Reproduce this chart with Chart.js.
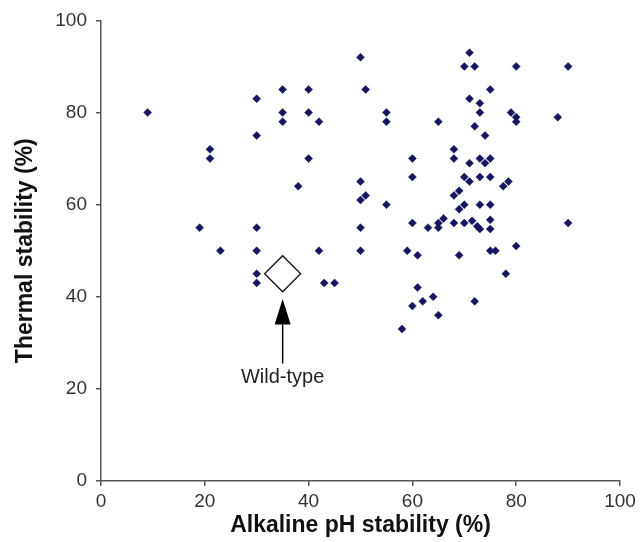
<!DOCTYPE html>
<html>
<head>
<meta charset="utf-8">
<script src="https://cdn.jsdelivr.net/npm/chart.js@4.4.1/dist/chart.umd.min.js"></script>
<style>
  html, body { margin: 0; padding: 0; background: #fff; }
  #wrap { width: 644px; height: 542px; }
</style>
</head>
<body>
<div id="wrap"><canvas id="graf"></canvas></div>
<script>
// Alkalická stabilita pH (%) a tepelná stabilita (%) mutantů
const phStabilita = [
  9, 19, 21, 21, 23, 30, 30, 30, 30, 30, 30, 35, 35, 35, 38, 40, 40, 40, 42, 42,
  43, 45, 50, 50, 50, 51, 50, 50, 51, 55, 55, 55, 58, 59, 60, 60, 60, 60, 61, 61,
  62, 63, 64, 65, 65, 65, 65, 66, 68, 68, 68, 68, 69, 69, 69, 70, 70, 70, 70, 71,
  71, 71, 71, 71.5, 72, 72, 72.5, 72, 73, 73, 73, 73, 73, 73, 74, 74, 75, 75, 75,
  75, 75, 75, 75, 76, 78.5, 77.5, 78, 79, 80, 80, 80, 80, 88, 90, 90
];
const tepelnaStabilita = [
  80, 55, 72, 70, 50, 83, 75, 55, 50, 45, 43, 85, 80, 78, 64, 85, 80, 70, 78, 50,
  43, 43, 92, 65, 61, 62, 55, 50, 85, 80, 78, 60, 33, 50, 70, 66, 56, 38, 49, 42,
  39, 55, 40, 78, 56, 55, 36, 57, 72, 70, 62, 56, 63, 59, 49, 90, 66, 60, 56, 93,
  83, 69, 65, 56.5, 90, 77, 55.3, 39, 82, 80, 70, 66, 60, 54.7, 75, 69, 85, 70, 66,
  60, 56.7, 54.7, 50, 50, 65, 64, 45, 80, 90, 79, 78, 51, 79, 90, 56
];
// Divoký typ
const divokyTyp = [{ x: 35, y: 45 }];
const popisek = 'Wild-type';
const sipka = { x: 35, spicka: 39.5, hlava: 34, konec: 25.5, text: 22.4 };

const osaX = [0, 20, 40, 60, 80, 100];
const osaY = [0, 20, 40, 60, 80, 100];

const body = phStabilita.map((v, i) => ({ x: v, y: tepelnaStabilita[i] }));

// šipka s popiskem u divokého typu
const sipkaPlugin = {
  id: 'sipka',
  afterDatasetsDraw(chart) {
    const ctx = chart.ctx;
    const sx = chart.scales.x, sy = chart.scales.y;
    const x = sx.getPixelForValue(sipka.x);
    const yTip = sy.getPixelForValue(sipka.spicka);
    const yHead = sy.getPixelForValue(sipka.hlava);
    const yEnd = sy.getPixelForValue(sipka.konec);
    ctx.save();
    ctx.strokeStyle = '#000';
    ctx.fillStyle = '#000';
    ctx.lineWidth = 1.5;
    ctx.beginPath();
    ctx.moveTo(x, yHead);
    ctx.lineTo(x, yEnd);
    ctx.stroke();
    ctx.beginPath();
    ctx.moveTo(x, yTip);
    ctx.lineTo(x - 8, yHead);
    ctx.lineTo(x + 8, yHead);
    ctx.closePath();
    ctx.fill();
    ctx.font = '20px "Liberation Sans", Arial, sans-serif';
    ctx.fillStyle = '#222';
    ctx.textAlign = 'center';
    ctx.textBaseline = 'middle';
    ctx.fillText(popisek, x, sy.getPixelForValue(sipka.text));
    ctx.restore();
  }
};

const ctx = document.getElementById('graf').getContext('2d');
new Chart(ctx, {
  type: 'scatter',
  data: {
    datasets: [{
      label: 'Mutanty',
      data: body,
      pointStyle: 'rectRot',
      pointRadius: 4,
      borderWidth: 0.5,
      backgroundColor: '#16165f',
      borderColor: '#16165f'
    }, {
      label: popisek,
      data: divokyTyp,
      pointStyle: 'rectRot',
      pointRadius: 18,
      borderWidth: 1.3,
      backgroundColor: '#fff',
      borderColor: '#111'
    }]
  },
  options: {
    responsive: true,
    maintainAspectRatio: false,
    animation: false,
    layout: { padding: { top: 18, right: 24, bottom: 0, left: 0 } },
    plugins: { legend: { display: false }, tooltip: { enabled: false } },
    scales: {
      x: {
        type: 'linear',
        min: 0, max: 100,
        afterBuildTicks: s => { s.ticks = osaX.map(v => ({ value: v })); },
        afterFit: s => { s.height = 61; },
        grid: { drawOnChartArea: false, tickLength: 5, color: '#555', lineWidth: 1.5 },
        border: { color: '#555', width: 1.5 },
        ticks: { color: '#333', padding: 4, font: { family: '"Liberation Sans", Arial', size: 19 } },
        title: {
          display: true,
          text: 'Alkaline pH stability (%)',
          color: '#111',
          padding: { top: 0, bottom: 3 },
          font: { family: '"Liberation Sans", Arial', size: 23, weight: 'bold' }
        }
      },
      y: {
        type: 'linear',
        min: 0, max: 100,
        afterBuildTicks: s => { s.ticks = osaY.map(v => ({ value: v })); },
        afterFit: s => { s.width = 101; },
        grid: { drawOnChartArea: false, tickLength: 5, color: '#555', lineWidth: 1.5 },
        border: { color: '#555', width: 1.5 },
        ticks: { color: '#333', padding: 9, font: { family: '"Liberation Sans", Arial', size: 19 } },
        title: {
          display: true,
          text: 'Thermal stability (%)',
          color: '#111',
          padding: { top: 12, bottom: 0 },
          font: { family: '"Liberation Sans", Arial', size: 23, weight: 'bold' }
        }
      }
    }
  },
  plugins: [sipkaPlugin]
});
</script>
</body>
</html>
